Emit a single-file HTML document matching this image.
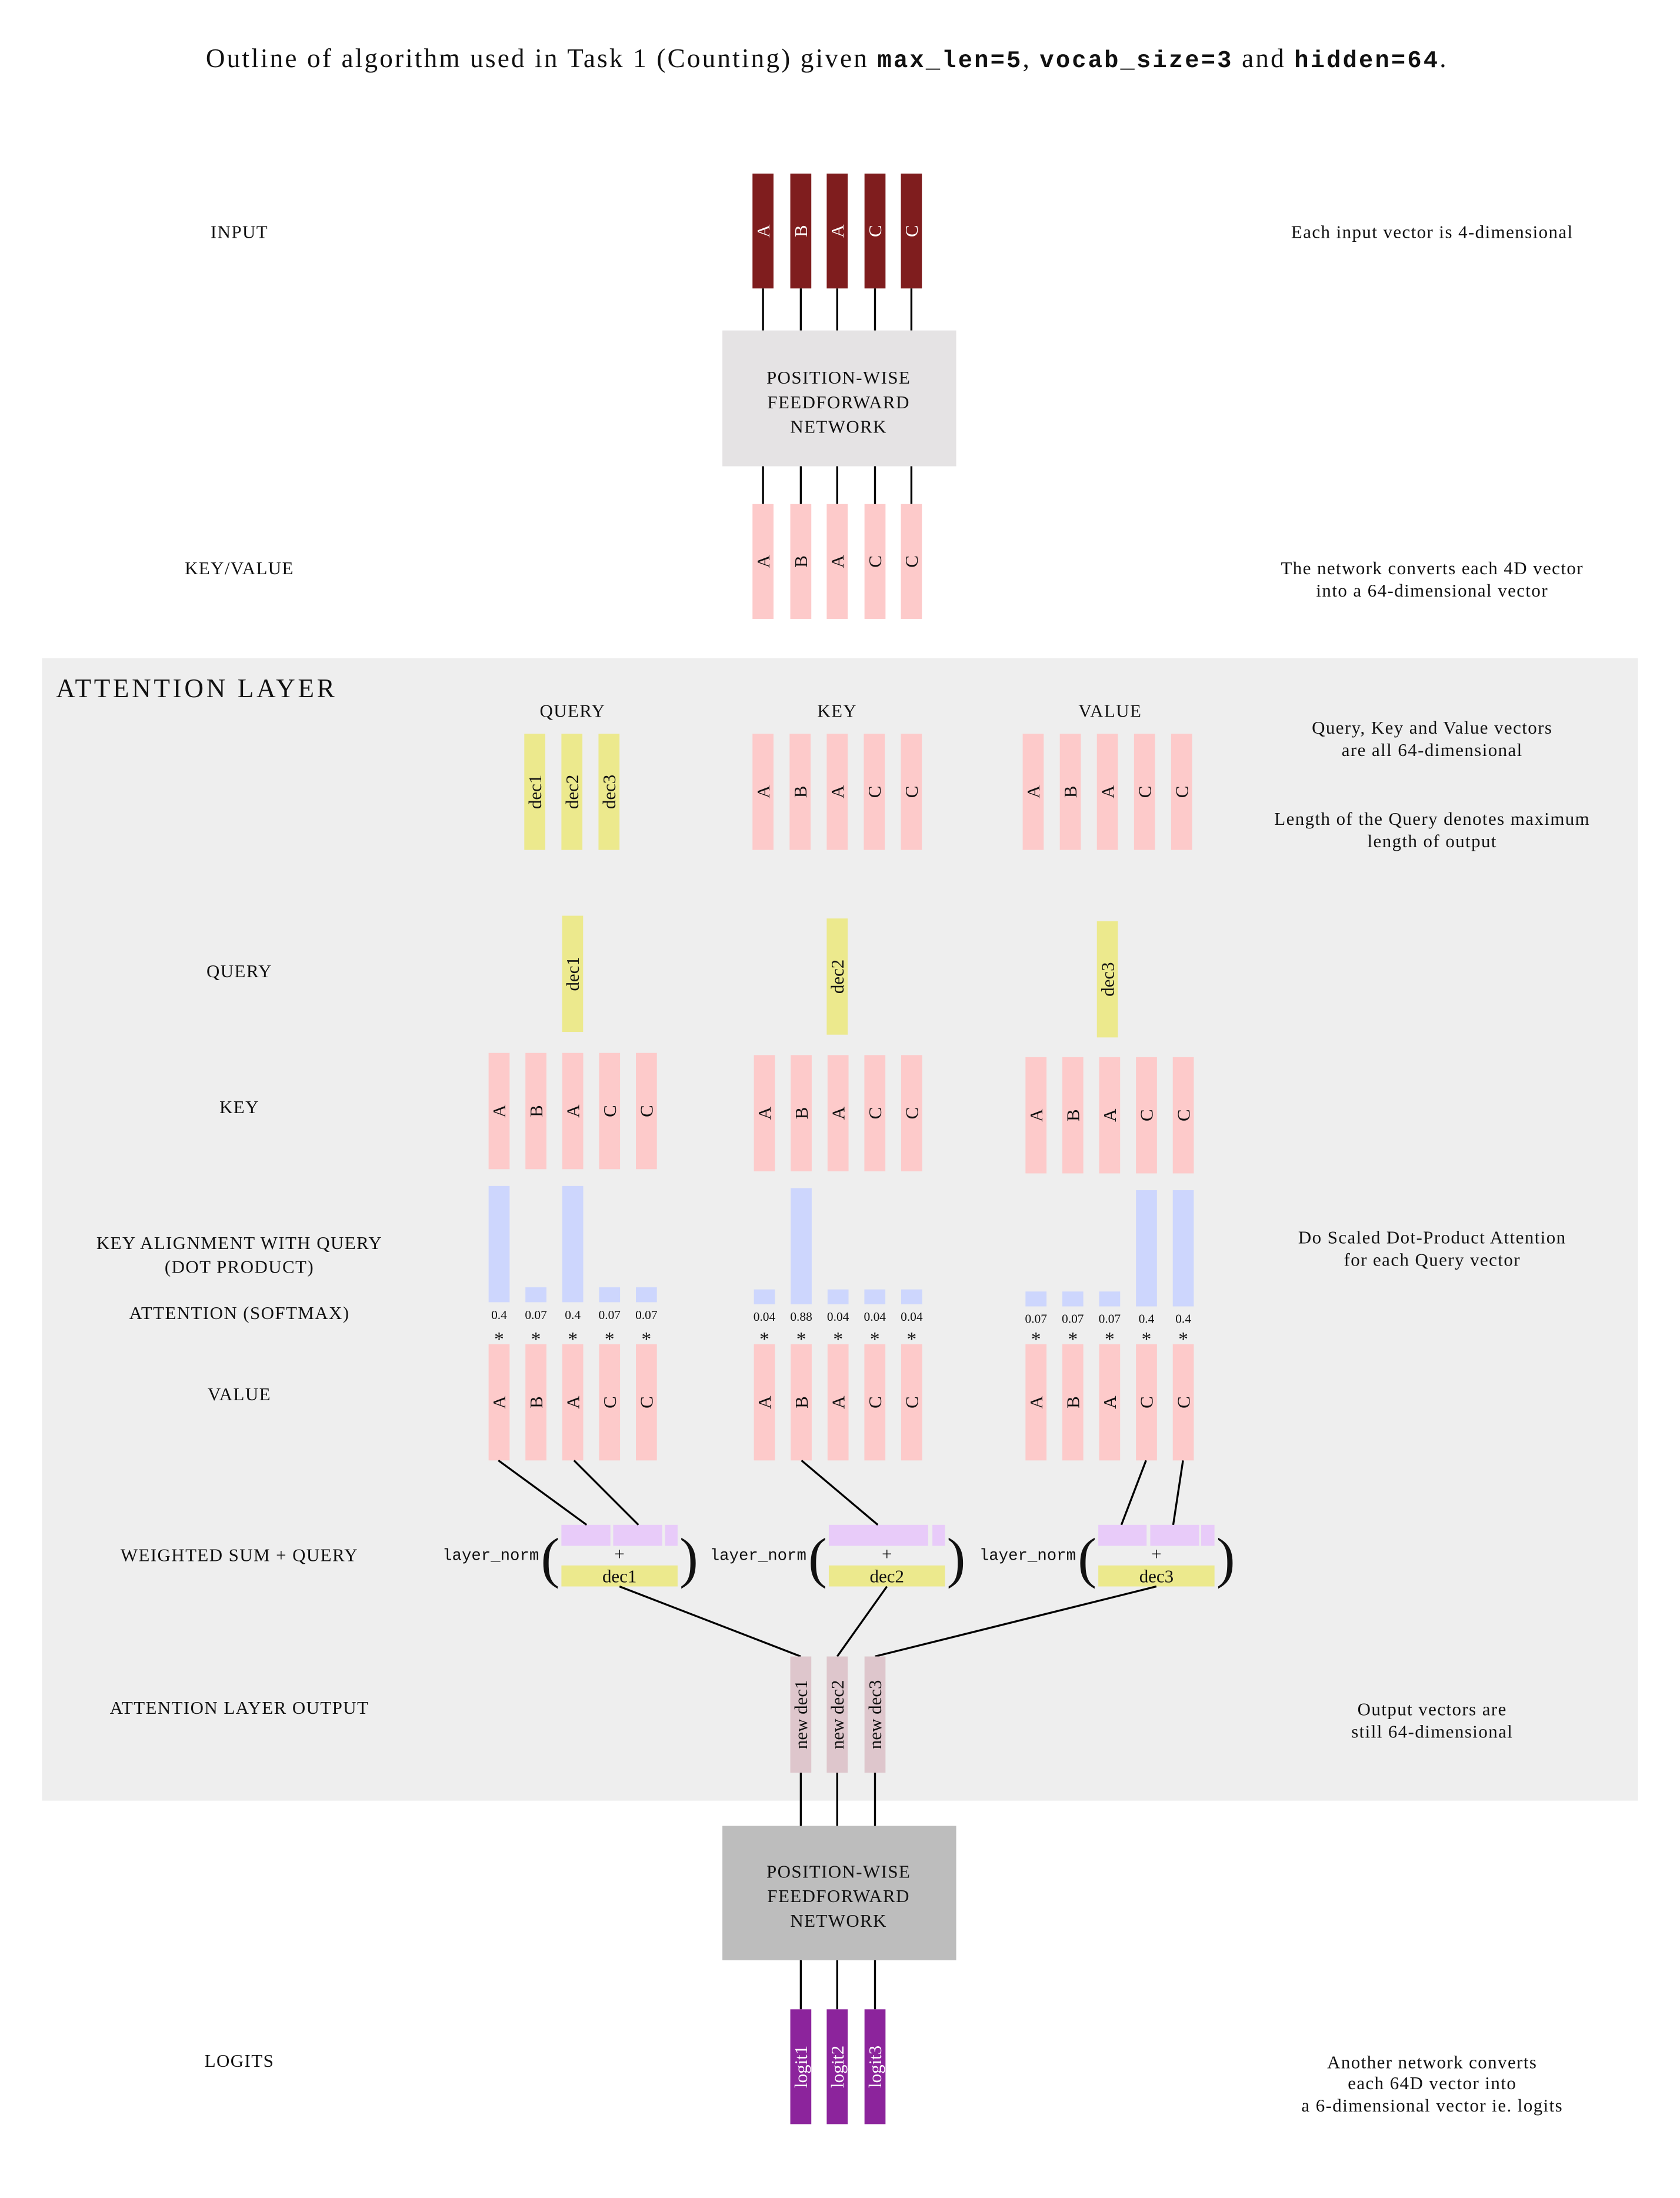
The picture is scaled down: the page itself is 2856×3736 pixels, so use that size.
<!DOCTYPE html>
<html><head><meta charset="utf-8"><style>
html,body{margin:0;padding:0;background:#fff;}
svg{display:block;}
text{font-family:"Liberation Serif",serif;fill:#111;}
.mono{font-family:"Liberation Mono",monospace;}
.sm{letter-spacing:0.6px;}
</style></head><body>
<svg id="fig" width="2856" height="3736" viewBox="0 0 1200 1569.75" xmlns="http://www.w3.org/2000/svg">
<text x="147" y="48" font-size="19" text-anchor="start" textLength="886" lengthAdjust="spacing">Outline of algorithm used in Task 1 (Counting) given <tspan class="mono" font-weight="bold" font-size="17">max_len=5</tspan>, <tspan class="mono" font-weight="bold" font-size="17">vocab_size=3</tspan> and <tspan class="mono" font-weight="bold" font-size="17">hidden=64</tspan>.</text>
<rect x="30" y="470" width="1140" height="816" fill="#eeeeee"/>
<text x="40" y="498" font-size="19" textLength="199" lengthAdjust="spacing">ATTENTION LAYER</text>
<rect x="516" y="236" width="167" height="97" fill="#e5e3e4"/>
<rect x="516" y="1304" width="167" height="96" fill="#bdbdbd"/>
<g id="g"></g>
</svg>
<script>
const tokens = ['A','B','A','C','C'];
const queries = ['dec1','dec2','dec3'];
const alignment = [[7.8,1,7.8,1,1],[1,7.8,1,1,1],[1,1,1,7.8,7.8]];
const attention = [['0.4','0.07','0.4','0.07','0.07'],['0.04','0.88','0.04','0.04','0.04'],['0.07','0.07','0.07','0.4','0.4']];
const outputs = ['new dec1','new dec2','new dec3'];
const logits = ['logit1','logit2','logit3'];

const NS='http://www.w3.org/2000/svg';
const G=document.getElementById('g');
function el(tag,attrs,txt){const e=document.createElementNS(NS,tag);for(const k in attrs)e.setAttribute(k,attrs[k]);if(txt!==undefined)e.textContent=txt;G.appendChild(e);return e;}
function bar(cx,y0,y1,fill,label,tcol,name){
  const r=el('rect',{x:cx-7.5,y:y0,width:15,height:y1-y0,fill:fill});
  
  
  if(label){const t=el('text',{x:0,y:0,'font-size':13,'text-anchor':'middle',transform:`translate(${cx+4.5},${(y0+y1)/2}) rotate(-90)`,style:'fill:'+tcol},label);
  
  }
}
function line(x1,y1,x2,y2,w){const l=el('line',{x1,y1,x2,y2,stroke:'#000','stroke-width':w||1.4});
  
  }
function txt(x,y,s,size,anchor,name,cls){const t=el('text',{x,y,'font-size':size||12.5,'text-anchor':anchor||'middle'},s);if(cls)t.setAttribute('class',cls);
  
  return t;}

const mid=[545,572,598,625,651];
tokens.forEach((k,i)=>{bar(mid[i],124,206,'#7f1d1e',k,'#fff','input-vector-'+i);line(mid[i],206,mid[i],236);line(mid[i],333,mid[i],360);bar(mid[i],360,442,'#fdcaca',k,'#111','keyvalue-vector-'+i);});
['POSITION-WISE','FEEDFORWARD','NETWORK'].forEach((s,i)=>txt(599,274+i*17.5,s,13,'middle','ffn-1-text','sm'));
['POSITION-WISE','FEEDFORWARD','NETWORK'].forEach((s,i)=>txt(599,1341+i*17.5,s,13,'middle','ffn-2-text','sm'));
[['INPUT',170],['KEY/VALUE',410],['QUERY',698],['KEY',795],['KEY ALIGNMENT WITH QUERY',892],['(DOT PRODUCT)',909],['ATTENTION (SOFTMAX)',942],['VALUE',1000],['WEIGHTED SUM + QUERY',1115],['ATTENTION LAYER OUTPUT',1224],['LOGITS',1476]].forEach(a=>txt(171,a[1],a[0],13,'middle','row-label','sm'));
[['Each input vector is 4-dimensional',170],['The network converts each 4D vector',410],['into a 64-dimensional vector',426],['Query, Key and Value vectors',524],['are all 64-dimensional',540],['Length of the Query denotes maximum',589],['length of output',605],['Do Scaled Dot-Product Attention',888],['for each Query vector',904],['Output vectors are',1225],['still 64-dimensional',1241],['Another network converts',1477],['each 64D vector into',1492],['a 6-dimensional vector ie. logits',1508]].forEach(a=>txt(1023,a[1],a[0],13,'middle','annotation','sm'));
txt(409,512,'QUERY',13,'middle','query-header','sm');txt(598,512,'KEY',13,'middle','key-header','sm');txt(793,512,'VALUE',13,'middle','value-header','sm');
queries.forEach((q,i)=>bar(382+i*26.5,524,607,'#ece98d',q,'#111','query-'+q));
tokens.forEach((k,i)=>{bar(545+i*26.5,524,607,'#fdcaca',k,'#111','key-'+i);bar(738+i*26.5,524,607,'#fdcaca',k,'#111','value-'+i);});
const gx=[356.5,546,740], dy=[0,1.5,3], qc=[409,598,791];
const lnx=[[401,436,438,473,475,484],[592,663,666,675],[784.5,819,821.6,856.5,858,867.5]];
const outC=[572,598,625];
const hi=Math.max(...alignment.flat());
for(let g=0;g<3;g++){
  const d=dy[g];
  bar(qc[g],654+d*1.3,737+d*1.3,'#ece98d',queries[g],'#111','query-row-'+queries[g]);
  const bottom=930+d;
  for(let i=0;i<5;i++){
    const cx=gx[g]+i*26.3;
    bar(cx,752+d,835+d,'#fdcaca',tokens[i],'#111','key-row-'+g+'-'+i);
    const h=alignment[g][i]/hi*83;
    bar(cx,bottom-h,bottom,'#cdd6fd',null,null,'alignment-bar-'+g+'-'+i);
    txt(cx,942+d*0.9,attention[g][i],9,'middle','attention-weight');
    txt(cx,961,'*',14,'middle','multiply-sign');
    bar(cx,960,1043,'#fdcaca',tokens[i],'#111','value-row-'+g+'-'+i);
  }
  const xs=lnx[g], x0=xs[0], x1=xs[xs.length-1];
  for(let j=0;j<xs.length;j+=2){const r=el('rect',{x:xs[j],y:1089,width:xs[j+1]-xs[j],height:15,fill:'#e8cbf9'});
    
    }
  const yb=el('rect',{x:x0,y:1118,width:x1-x0,height:15,fill:'#ece98d'});
  
  
  txt((x0+x1)/2,1130,queries[g],13,'middle','residual-label');
  txt((x0+x1)/2,1114,'+',13,'middle','plus-sign');
  txt(x0-16,1114,'layer_norm',11.5,'end','layer-norm-label','mono');
  txt(x0-8,1126,'(',40,'middle','paren-open');
  txt(x1+8,1126,')',40,'middle','paren-close');
  const pts=[[[356,419],[410,456]],[[572.5,627]],[[818.6,801],[845,838]]][g];
  pts.forEach(p=>line(p[0],1043,p[1],1089));
  line((x0+x1)/2,1133,outC[g],1183);
}
outputs.forEach((o,i)=>{bar(outC[i],1183,1266,'#dec6cc',o,'#111','output-'+i);line(outC[i],1266,outC[i],1304);line(outC[i],1400,outC[i],1435);bar(outC[i],1435,1517,'#8c249c',logits[i],'#fff','logit-'+i);});
</script>
</body></html>
